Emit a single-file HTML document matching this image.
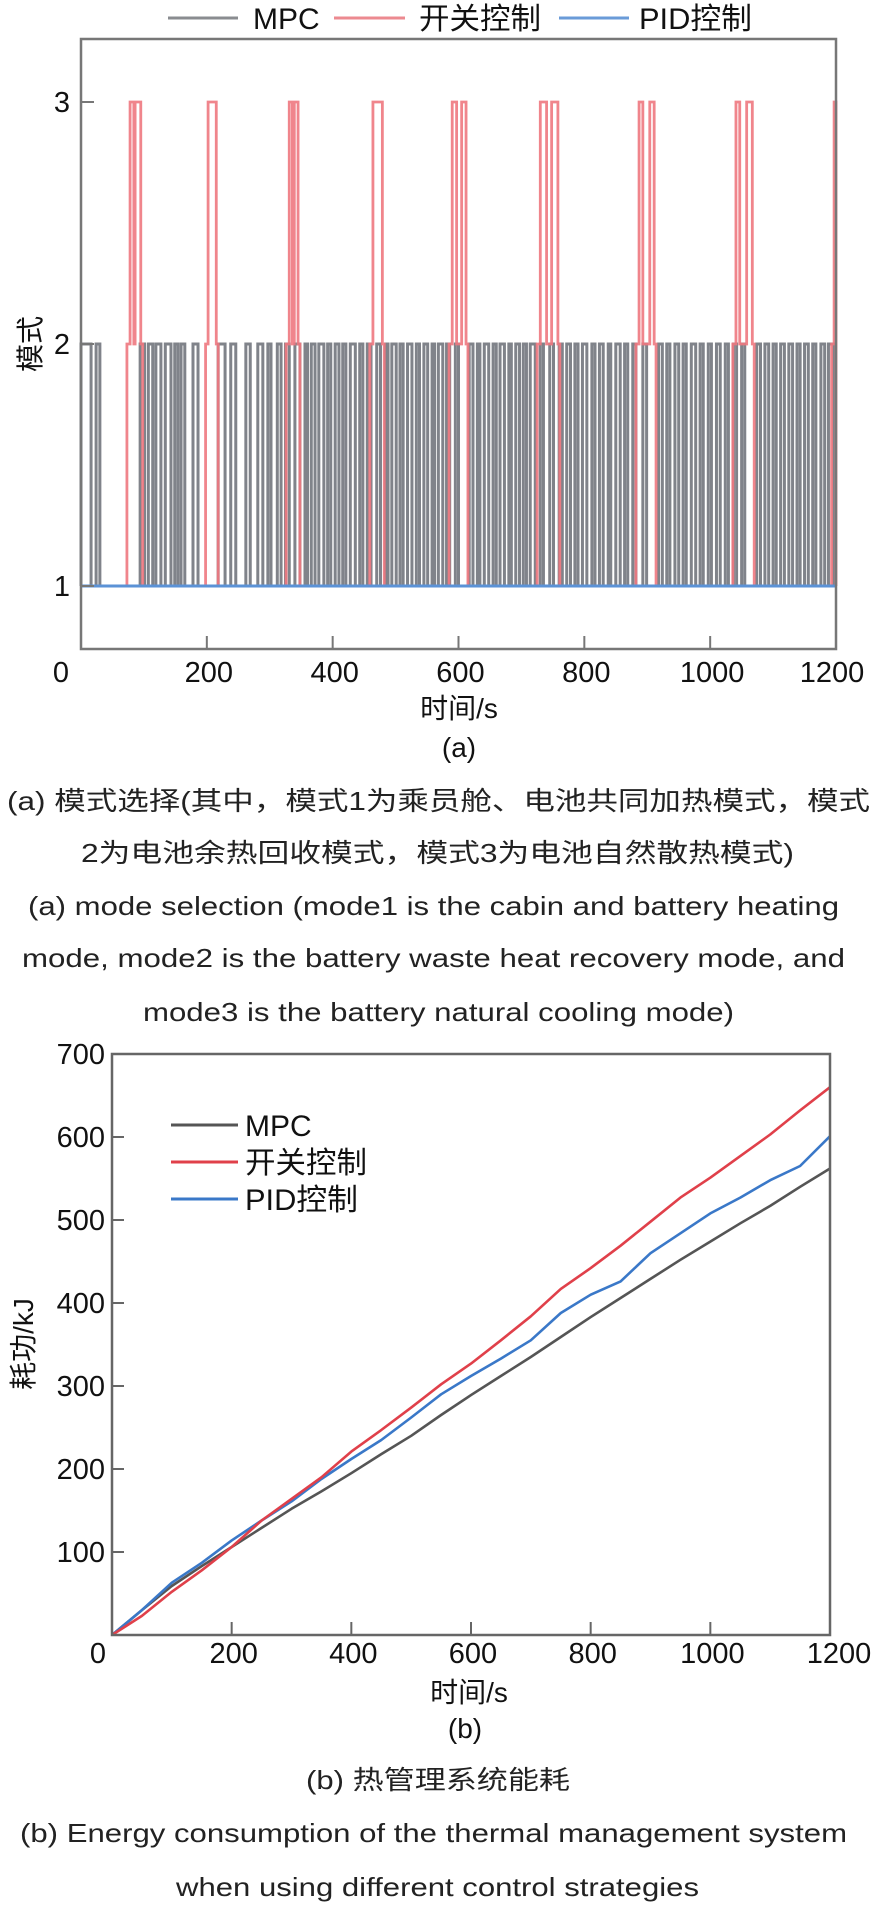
<!DOCTYPE html>
<html><head><meta charset="utf-8"><title>Mode selection and energy consumption</title>
<style>
html,body{margin:0;padding:0;background:#fff;}
svg{display:block;font-family:"Liberation Sans","Noto Sans CJK SC",sans-serif;}
</style></head>
<body>
<svg id="root" width="877" height="1907" viewBox="0 0 877 1907" xmlns="http://www.w3.org/2000/svg">
  <g id="chartA">
    <g>
      <line x1="168" y1="18" x2="238" y2="18" stroke="#8a8c90" stroke-width="3"/>
      <text x="253" y="29" font-size="30" fill="#111">MPC</text>
      <line x1="334" y1="18" x2="405" y2="18" stroke="#ec8a90" stroke-width="3"/>
      <text x="419" y="29" font-size="30" fill="#111" textLength="122" lengthAdjust="spacingAndGlyphs">开关控制</text>
      <line x1="559" y1="18" x2="629" y2="18" stroke="#6a9bd8" stroke-width="3"/>
      <text x="639" y="29" font-size="30" fill="#111" textLength="113" lengthAdjust="spacingAndGlyphs">PID控制</text>
    </g>
    <g id="aMarks"></g>
    <rect x="81" y="39" width="755" height="610" fill="none" stroke="#777" stroke-width="2.5"/>
    <g id="aAxes"></g>
    <text x="459" y="718" font-size="28" text-anchor="middle" fill="#111">时间/s</text>
    <text x="459" y="757" font-size="28" text-anchor="middle" fill="#111">(a)</text>
    <text transform="translate(40,344) rotate(-90)" font-size="28" text-anchor="middle" fill="#111">模式</text>
  </g>

  <g fill="#222" font-size="26">
    <text x="7" y="810" textLength="863" lengthAdjust="spacingAndGlyphs">(a) 模式选择(其中，模式1为乘员舱、电池共同加热模式，模式</text>
    <text x="81" y="862" textLength="713" lengthAdjust="spacingAndGlyphs">2为电池余热回收模式，模式3为电池自然散热模式)</text>
    <text x="28" y="915" textLength="811" lengthAdjust="spacingAndGlyphs">(a) mode selection (mode1 is the cabin and battery heating</text>
    <text x="22" y="967" textLength="823" lengthAdjust="spacingAndGlyphs">mode, mode2 is the battery waste heat recovery mode, and</text>
    <text x="143" y="1021" textLength="591" lengthAdjust="spacingAndGlyphs">mode3 is the battery natural cooling mode)</text>
  </g>

  <g id="chartB">
    <g id="bMarks"></g>
    <rect x="112" y="1054" width="718" height="581" fill="none" stroke="#666" stroke-width="2.5"/>
    <g id="bAxes"></g>
    <g>
      <line x1="171" y1="1125" x2="238" y2="1125" stroke="#555" stroke-width="3"/>
      <text x="245" y="1136" font-size="30" fill="#111">MPC</text>
      <line x1="171" y1="1162" x2="238" y2="1162" stroke="#e0404a" stroke-width="3"/>
      <text x="245" y="1173" font-size="30" fill="#111" textLength="122" lengthAdjust="spacingAndGlyphs">开关控制</text>
      <line x1="171" y1="1199" x2="238" y2="1199" stroke="#3a78c8" stroke-width="3"/>
      <text x="245" y="1210" font-size="30" fill="#111" textLength="113" lengthAdjust="spacingAndGlyphs">PID控制</text>
    </g>
    <text x="469" y="1702" font-size="28" text-anchor="middle" fill="#111">时间/s</text>
    <text x="465" y="1738" font-size="28" text-anchor="middle" fill="#111">(b)</text>
    <text transform="translate(33,1344) rotate(-90)" font-size="28" text-anchor="middle" fill="#111">耗功/kJ</text>
  </g>

  <g fill="#222" font-size="26">
    <text x="306" y="1789" textLength="264" lengthAdjust="spacingAndGlyphs">(b) 热管理系统能耗</text>
    <text x="20" y="1842" textLength="827" lengthAdjust="spacingAndGlyphs">(b) Energy consumption of the thermal management system</text>
    <text x="176" y="1896" textLength="523" lengthAdjust="spacingAndGlyphs">when using different control strategies</text>
  </g>
</svg>
<script>
const aXTicks = [0, 200, 400, 600, 800, 1000, 1200];
const aYTicks = [1, 2, 3];
const mpcMode2 = [[0,16],[24,30],[94,101],[107,114],[119,127],[134,143],[149,154],[159,165],[178,186],[218,229],[238,246],[262,269],[281,289],[297,302],
[312,318],[325,331],[340,348],[356,360],[366,372],[378,386],[392,397],[404,410],[416,421],[428,436],[443,448],[455,461],[470,476],[484,488],[494,501],[507,512],[519,526],[533,538],[545,551],[558,562],[568,575],[581,586],
[595,600],[617,623],[630,634],[641,648],[655,660],[666,673],[680,684],[691,697],[703,708],[714,722],[730,735],[745,751],[760,765],[772,778],[785,790],[797,804],[812,817],[824,830],[838,842],[850,857],[864,869],[877,882],
[893,899],[918,924],[931,936],[944,950],[957,962],[970,977],[984,989],[997,1002],[1010,1016],[1024,1029],[1037,1042],[1050,1055],[1074,1080],[1087,1093],[1100,1105],[1112,1118],[1125,1131],[1138,1143],[1150,1156],[1163,1168],[1176,1182],[1188,1196]];
const switchMode2 = [[73,98],[198,218],[326,348],[459,482],[585,615],[725,761],[882,914],[1036,1070],[1193,1200]];
const switchMode3 = [[78,84],[86,95],[202,215],[331,336],[339,345],[464,479],[590,597],[605,612],[730,740],[748,758],[887,893],[904,911],[1041,1047],[1058,1067],[1197,1200]];
const pidMode = [[0,1],[1200,1]];

const bTimes = [0,50,100,150,200,250,300,350,400,450,500,550,600,650,700,750,800,850,900,950,1000,1050,1100,1150,1200];
const mpcEnergy = [0,30,59,83,106,129,152,173,195,218,240,265,289,312,335,359,383,406,429,452,474,496,517,540,562];
const switchEnergy = [0,23,52,78,106,138,164,190,221,247,274,302,327,355,384,417,442,469,498,527,551,577,603,632,660];
const pidEnergy = [0,30,63,87,114,138,161,188,212,235,262,290,312,333,355,388,410,426,460,484,508,527,548,565,601];
const bXTicks = [0,200,400,600,800,1000,1200];
const bYTicks = [0,100,200,300,400,500,600,700];

const NS = "http://www.w3.org/2000/svg";
function mk(tag, attrs, parent){const e=document.createElementNS(NS,tag);for(const k in attrs)e.setAttribute(k,attrs[k]);parent.appendChild(e);return e;}

const ax = t => 81 + t * (755/1200);
const ay = m => 344 - (m - 2) * 242;
const bx = t => 112 + t * (718/1200);
const by = v => 1635 - v * (581/700);

const aAxes = document.getElementById('aAxes');
aXTicks.forEach((t,i)=>{
  if(i>0 && i<aXTicks.length-1){
    const tk = mk('line',{x1:ax(t),x2:ax(t),y1:649,y2:636,stroke:'#777','stroke-width':2},aAxes);
    
    
  }
  const lx = i===0 ? 61 : (i===aXTicks.length-1 ? 832 : ax(t)+2);
  const lb = mk('text',{x:lx,y:682,'font-size':29,'text-anchor':'middle',fill:'#111'},aAxes);
  lb.textContent = t;
  
  
});
aYTicks.forEach(m=>{
  const tk = mk('line',{x1:81,x2:94,y1:ay(m),y2:ay(m),stroke:'#777','stroke-width':2},aAxes);
  
  
  const lb = mk('text',{x:70,y:ay(m)+10,'font-size':29,'text-anchor':'end',fill:'#111'},aAxes);
  lb.textContent = m;
  
  
});

const aMarks = document.getElementById('aMarks');
let d = 'M'+ax(0)+','+ay(1);
mpcMode2.forEach(([s,e])=>{
  d += ' L'+ax(s)+','+ay(1)+' L'+ax(s)+','+ay(2)+' L'+ax(e)+','+ay(2)+' L'+ax(e)+','+ay(1);
});
d += ' L'+ax(1200)+','+ay(1);
const mpcPath = mk('path',{d:d,fill:'none',stroke:'#80838a','stroke-width':3},aMarks);


let d2 = 'M'+ax(0)+','+ay(1);
switchMode2.forEach(([s,e])=>{
  d2 += ' L'+ax(s)+','+ay(1)+' L'+ax(s)+','+ay(2);
  switchMode3.filter(p=>p[0]>=s && p[1]<=e).forEach(([ps,pe])=>{
    d2 += ' L'+ax(ps)+','+ay(2)+' L'+ax(ps)+','+ay(3)+' L'+ax(pe)+','+ay(3)+' L'+ax(pe)+','+ay(2);
  });
  d2 += ' L'+ax(e)+','+ay(2)+' L'+ax(e)+','+ay(1);
});
const swPath = mk('path',{d:d2,fill:'none',stroke:'#ee7880','stroke-width':2.8,'stroke-opacity':0.9},aMarks);


const pidLine = mk('polyline',{points:pidMode.map(p=>ax(p[0])+','+ay(p[1])).join(' '),fill:'none',stroke:'#5b92d6','stroke-width':3},aMarks);



const bAxes = document.getElementById('bAxes');
bXTicks.forEach((t,i)=>{
  if(i>0 && i<bXTicks.length-1){
    const tk = mk('line',{x1:bx(t),x2:bx(t),y1:1635,y2:1622,stroke:'#666','stroke-width':2},bAxes);
    
    
  }
  const lx = i===0 ? 98 : (i===bXTicks.length-1 ? 839 : bx(t)+2);
  const lb = mk('text',{x:lx,y:1663,'font-size':29,'text-anchor':'middle',fill:'#111'},bAxes);
  lb.textContent = t;
  
  
});
bYTicks.forEach(v=>{
  if(v>0 && v<700){
    const tk = mk('line',{x1:112,x2:124,y1:by(v),y2:by(v),stroke:'#666','stroke-width':2},bAxes);
    
    
  }
  if(v===0) return;
  const lb = mk('text',{x:105,y:by(v)+10,'font-size':29,'text-anchor':'end',fill:'#111'},bAxes);
  lb.textContent = v;
  
  
});

const bMarks = document.getElementById('bMarks');
function series(vals,color,name){
  const pts = bTimes.map((t,i)=>bx(t).toFixed(1)+','+by(vals[i]).toFixed(1)).join(' ');
  const pl = mk('polyline',{points:pts,fill:'none',stroke:color,'stroke-width':2.6,'stroke-linejoin':'round'},bMarks);
  
  
}
series(mpcEnergy,'#555','mpc-energy-line');
series(pidEnergy,'#3a78c8','pid-energy-line');
series(switchEnergy,'#e0404a','switch-energy-line');
</script>
</body></html>
